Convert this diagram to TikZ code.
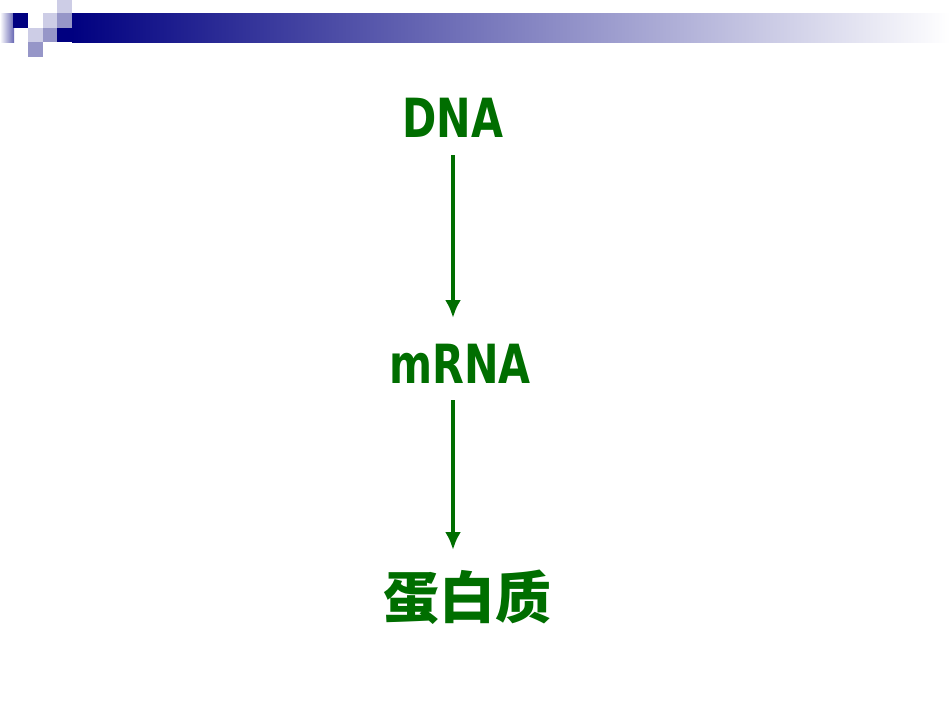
\documentclass[tikz,border=0pt]{standalone}
\usepackage{fontspec}
\usetikzlibrary{arrows.meta}
\setmainfont{DejaVu Sans Condensed}
\newfontfamily\cjk{Noto Sans CJK SC}
\begin{document}
\begin{tikzpicture}[x=1pt,y=-1pt,
  lbl/.style={text=dgreen,font=\bfseries\fontsize{54}{54}\selectfont,inner sep=0},
  arr/.style={draw=dgreen,line width=4pt,-{Latex[length=18pt,width=16pt]}}]
\definecolor{dgreen}{RGB}{0,110,0}
\definecolor{navy}{RGB}{0,0,128}
\definecolor{midb}{RGB}{150,150,200}
\definecolor{lightb}{RGB}{205,205,230}
\useasboundingbox[fill=white] (0,0) rectangle (950,713);
\shade[left color=navy,right color=white] (72,13) rectangle (950,42);
\shade[left color=white,right color=navy!60!white] (0,13) rectangle (14,42);
\fill[navy] (13,13) rectangle (28,28);
\fill[lightb] (43,13) rectangle (57,28);
\fill[midb] (57,13) rectangle (72,28);
\fill[lightb] (57,0) rectangle (72,13);
\fill[navy] (57,28) rectangle (72,42);
\fill[lightb] (28,28) rectangle (43,42);
\fill[midb] (43,28) rectangle (57,42);
\fill[midb] (28,42) rectangle (43,57);
\node[lbl,xscale=0.85] (dna) at (453,118) {DNA};
\node[lbl,xscale=0.85] (mrna) at (460,364) {mRNA};
\node[lbl,font=\cjk\bfseries\fontsize{56}{56}\selectfont] (prot) at (467,597) {蛋白质};
\coordinate (a1) at (453,155); \coordinate (a2) at (453,318);
\coordinate (b1) at (453,400); \coordinate (b2) at (453,550);
\draw[arr] (a1) -- (a2);
\draw[arr] (b1) -- (b2);
\end{tikzpicture}
\end{document}
